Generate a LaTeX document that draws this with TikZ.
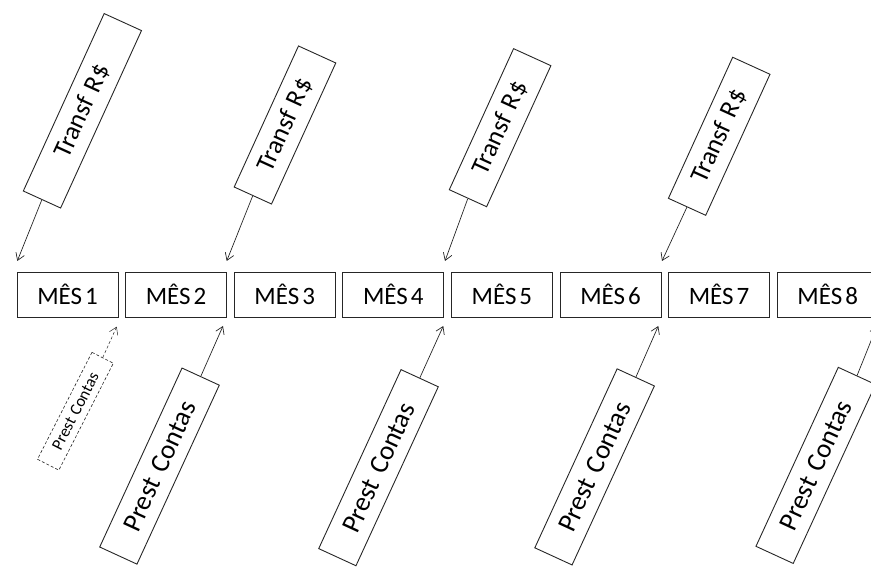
\documentclass[tikz,border=0pt]{standalone}
\usepackage{fontspec}
\setmainfont{Carlito}
\usetikzlibrary{arrows.meta}
\begin{document}
\begin{tikzpicture}[x=1pt,y=1pt,
  mes/.style={draw=black!85,line width=1pt,minimum width=101pt,minimum height=45pt,inner sep=0pt,font=\fontsize{25}{25}\selectfont},
  transf/.style={draw=black!85,line width=0.9pt,minimum height=41pt,inner sep=0pt,rotate=65.5,font=\fontsize{26}{26}\selectfont},
  prest/.style={draw=black!85,line width=0.9pt,minimum height=41pt,minimum width=197pt,inner sep=0pt,rotate=65.3,font=\fontsize{27}{27}\selectfont},
  prestsmall/.style={draw=black!85,line width=0.6pt,densely dashed,minimum height=24pt,minimum width=120pt,inner sep=0pt,rotate=63,font=\fontsize{16.5}{16.5}\selectfont},
  arr/.style={draw=black!85,line width=0.7pt,-{Straight Barb[length=7pt,width=9pt]}}
]
\useasboundingbox (0,0) rectangle (871,567);
\clip (0,0) rectangle (871,567);
% month boxes
\foreach \i in {1,...,8}{
  \node[mes] (m\i) at ({67.5+108.6*(\i-1)},272.2) {MÊS\kern3pt\i};
}
% Transf boxes
\node[transf,minimum width=195pt] (t1) at (82.4,456.2) {Transf\hspace{8pt}R\kern1pt\$};
\node[transf,minimum width=155pt] (t2) at (285,442) {Transf\hspace{8pt}R\kern1pt\$};
\node[transf,minimum width=155pt] (t3) at (500.1,439.3) {Transf\hspace{8pt}R\kern1pt\$};
\node[transf,minimum width=155pt] (t4) at (719.2,430.7) {Transf\hspace{8pt}R\kern1pt\$};
\coordinate (ta1) at (17.3,306);
\coordinate (ta2) at (226.7,306);
\coordinate (ta3) at (445,306);
\coordinate (ta4) at (662,306);
\foreach \i in {1,...,4}{
  \draw[arr] (t\i.west) -- (ta\i);
}
% Prest Contas boxes
\node[prest] (p1) at (159.5,100.9) {Prest\hspace{9pt}Contas};
\node[prest] (p2) at (378.5,99.3) {Prest\hspace{9pt}Contas};
\node[prest] (p3) at (594.6,100.1) {Prest\hspace{9pt}Contas};
\node[prest] (p4) at (815.75,101.6) {Prest\hspace{9pt}Contas};
\coordinate (pa1) at (223,241);
\coordinate (pa2) at (443.3,241);
\coordinate (pa3) at (658.3,241);
\coordinate (pa4) at (877,241);
\foreach \i in {1,...,4}{
  \draw[arr] (p\i.east) -- (pa\i);
}
\node[prestsmall] (p0) at (75.4,155.75) {Prest\hspace{5pt}Contas};
\coordinate (pa0) at (116.7,240.3);
\draw[arr,densely dashed,line width=0.5pt] (p0.east) -- (pa0);
\end{tikzpicture}
\end{document}
